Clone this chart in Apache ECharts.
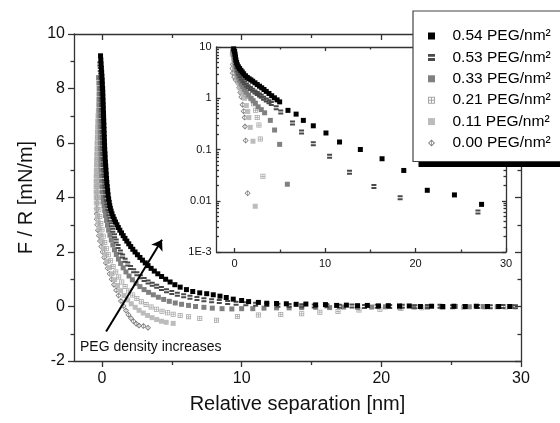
<!DOCTYPE html>
<html>
<head>
<meta charset="utf-8">
<script src="https://cdn.jsdelivr.net/npm/echarts@6/dist/echarts.min.js"></script>
<style>html,body{margin:0;padding:0;background:#fff}#c{width:560px;height:423px}</style>
</head>
<body>
<div id="c"></div>
<script>
// ---------- data ----------
const seriesNames = ['0.54 PEG/nm²','0.53 PEG/nm²','0.33 PEG/nm²','0.21 PEG/nm²','0.11 PEG/nm²','0.00 PEG/nm²'];
const xMajorTicks = [0,10,20,30];
const xMinorTicks = [5,15,25];
const insetYMajor = [0.001,0.01,0.1,1,10];
const insetYMinor = [0.002,0.003,0.004,0.005,0.006,0.007,0.008,0.009,0.02,0.03,0.04,0.05,0.06,0.07,0.08,0.09,0.2,0.3,0.4,0.5,0.6,0.7,0.8,0.9,2,3,4,5,6,7,8,9];
const insetYLabels = ['1E-3','0.01','0.1','1','10'];

const main054 = [[-0.10,9.20],[-0.08,9.05],[-0.06,8.90],[-0.04,8.75],[-0.02,8.60],[0.00,8.45],[0.02,8.30],[0.03,8.15],[0.05,8.00],[0.06,7.85],[0.07,7.70],[0.08,7.55],[0.09,7.40],[0.10,7.25],[0.11,7.10],[0.12,6.95],[0.13,6.80],[0.14,6.65],[0.15,6.50],[0.16,6.35],[0.17,6.20],[0.18,6.05],[0.19,5.90],[0.20,5.75],[0.22,5.60],[0.23,5.45],[0.25,5.30],[0.27,5.15],[0.29,5.00],[0.31,4.85],[0.33,4.70],[0.35,4.55],[0.38,4.40],[0.41,4.25],[0.44,4.10],[0.48,3.95],[0.52,3.82],[0.56,3.70],[0.60,3.60],[0.66,3.50],[0.72,3.40],[0.80,3.30],[0.88,3.20],[0.97,3.10],[1.07,3.00],[1.17,2.90],[1.28,2.80],[1.40,2.70],[1.52,2.60],[1.65,2.50],[1.78,2.40],[1.92,2.30],[2.06,2.20],[2.21,2.10],[2.37,2.00],[2.54,1.90],[2.72,1.80],[2.90,1.70],[3.10,1.60],[3.30,1.50],[3.52,1.40],[3.75,1.30],[4.00,1.20],[4.27,1.10],[4.56,1.00],[4.88,0.90],[5.22,0.80],[5.60,0.71],[6.05,0.62],[6.50,0.55],[7.00,0.50],[7.50,0.47],[7.97,0.43],[8.45,0.38],[8.90,0.33],[9.40,0.27],[10.0,0.22],[10.5,0.18],[11.2,0.15],[11.8,0.12],[12.5,0.11],[13.2,0.10],[13.9,0.08],[14.6,0.09],[15.3,0.06],[16.0,0.07],[16.8,0.04],[17.5,0.05],[18.3,0.03],[19.0,0.04],[19.8,0.02],[20.5,0.03],[21.3,0.02],[22.0,0.02],[22.8,0.00],[23.6,0.01],[24.4,0.00],[25.2,0.01],[26.0,0.00],[26.8,0.01],[27.6,0.00],[28.4,0.00],[29.2,0.00]];
const main053 = [[-0.15,8.90],[-0.12,8.70],[-0.10,8.50],[-0.08,8.30],[-0.06,8.10],[-0.05,7.90],[-0.04,7.70],[-0.03,7.50],[-0.02,7.30],[-0.01,7.10],[0.00,6.90],[0.01,6.70],[0.02,6.50],[0.03,6.30],[0.04,6.10],[0.05,5.90],[0.06,5.70],[0.08,5.50],[0.10,5.30],[0.12,5.10],[0.14,4.90],[0.17,4.70],[0.20,4.50],[0.23,4.30],[0.27,4.10],[0.31,3.95],[0.35,3.80],[0.42,3.60],[0.50,3.40],[0.58,3.20],[0.68,3.00],[0.78,2.80],[0.90,2.60],[1.02,2.40],[1.16,2.20],[1.32,2.00],[1.48,1.85],[1.66,1.70],[1.85,1.56],[2.05,1.43],[2.27,1.31],[2.50,1.20],[2.75,1.09],[3.02,0.99],[3.30,0.90],[3.60,0.82],[3.92,0.74],[4.26,0.66],[4.62,0.58],[5.00,0.51],[5.40,0.45],[5.85,0.39],[6.30,0.34],[6.80,0.29],[7.30,0.25],[7.85,0.21],[8.40,0.18],[9.00,0.15],[9.60,0.12],[10.3,0.10],[11.0,0.08],[11.8,0.07],[12.6,0.05],[13.4,0.04],[14.3,0.03],[15.2,0.02],[16.1,0.03],[17.0,0.01],[17.9,0.02],[18.8,0.00],[19.7,0.01],[20.6,0.00],[21.5,0.01],[22.4,-0.01],[23.3,0.00],[24.2,0.01],[25.1,-0.01],[26.0,0.00],[26.9,0.00],[27.8,-0.01],[28.7,0.00],[29.6,-0.01]];
const main033 = [[-0.24,8.40],[-0.22,8.20],[-0.20,8.00],[-0.19,7.80],[-0.18,7.60],[-0.17,7.40],[-0.16,7.20],[-0.15,7.00],[-0.14,6.80],[-0.13,6.60],[-0.12,6.40],[-0.11,6.20],[-0.10,6.00],[-0.09,5.80],[-0.08,5.60],[-0.07,5.40],[-0.06,5.20],[-0.05,5.00],[-0.03,4.80],[-0.01,4.60],[0.01,4.40],[0.04,4.20],[0.07,4.00],[0.11,3.85],[0.15,3.70],[0.20,3.52],[0.26,3.34],[0.33,3.16],[0.40,2.98],[0.48,2.80],[0.57,2.62],[0.67,2.44],[0.78,2.26],[0.90,2.08],[1.03,1.91],[1.18,1.74],[1.34,1.58],[1.52,1.42],[1.72,1.27],[1.94,1.12],[2.18,0.98],[2.44,0.85],[2.72,0.73],[3.02,0.62],[3.34,0.52],[3.68,0.43],[4.04,0.34],[4.42,0.26],[4.82,0.19],[5.25,0.13],[5.70,0.08],[6.20,0.04],[6.70,0.00],[7.30,-0.03],[7.90,-0.06],[8.60,-0.08],[9.30,-0.09],[10.0,-0.08],[10.8,-0.08],[11.6,-0.06],[12.5,-0.05],[13.4,-0.05],[14.3,-0.04],[15.3,-0.03],[16.3,-0.04],[17.3,-0.02],[18.3,-0.03],[19.3,-0.02],[20.3,-0.01],[21.3,-0.02],[22.3,-0.01],[23.3,-0.02],[24.3,-0.01],[25.3,0.00],[26.3,-0.01],[27.3,0.00],[28.3,-0.01],[29.3,0.00]];
const main021 = [[-0.20,7.80],[-0.22,7.60],[-0.24,7.40],[-0.25,7.20],[-0.26,7.00],[-0.27,6.80],[-0.28,6.60],[-0.29,6.40],[-0.30,6.20],[-0.31,6.00],[-0.32,5.80],[-0.33,5.60],[-0.34,5.40],[-0.35,5.20],[-0.35,5.00],[-0.36,4.80],[-0.36,4.60],[-0.35,4.40],[-0.34,4.20],[-0.31,4.00],[-0.27,3.80],[-0.22,3.55],[-0.15,3.30],[-0.08,3.05],[0.00,2.82],[0.09,2.58],[0.20,2.35],[0.32,2.12],[0.46,1.90],[0.62,1.68],[0.80,1.47],[0.99,1.27],[1.20,1.08],[1.42,0.90],[1.66,0.73],[1.92,0.57],[2.20,0.42],[2.50,0.29],[2.82,0.17],[3.16,0.07],[3.52,-0.02],[3.90,-0.10],[4.30,-0.17],[4.70,-0.23],[5.10,-0.28],[5.60,-0.33],[6.20,-0.38],[7.00,-0.44],[8.20,-0.50],[9.70,-0.37],[11.2,-0.31],[12.8,-0.29],[14.3,-0.27],[15.6,-0.21],[16.9,-0.18],[18.4,-0.13],[19.9,-0.10],[21.4,-0.07],[22.9,-0.05],[24.4,-0.04],[25.9,-0.03],[27.4,-0.02],[28.9,-0.02]];
const main011 = [[-0.25,7.20],[-0.27,7.00],[-0.29,6.80],[-0.30,6.60],[-0.32,6.40],[-0.33,6.20],[-0.35,6.00],[-0.36,5.80],[-0.37,5.60],[-0.38,5.40],[-0.39,5.20],[-0.40,5.00],[-0.41,4.80],[-0.42,4.60],[-0.42,4.40],[-0.42,4.20],[-0.41,4.00],[-0.40,3.80],[-0.37,3.58],[-0.33,3.34],[-0.27,3.10],[-0.20,2.86],[-0.11,2.62],[-0.01,2.38],[0.10,2.14],[0.23,1.90],[0.38,1.66],[0.54,1.43],[0.72,1.20],[0.91,0.98],[1.12,0.77],[1.34,0.58],[1.58,0.40],[1.84,0.24],[2.10,0.10],[2.38,-0.03],[2.66,-0.14],[2.96,-0.24],[3.27,-0.33],[3.59,-0.41],[3.92,-0.48],[4.26,-0.54],[4.60,-0.58],[5.10,-0.62]];
const main000 = [[0.02,6.80],[0.00,6.60],[-0.03,6.40],[-0.06,6.20],[-0.09,6.00],[-0.12,5.80],[-0.15,5.60],[-0.18,5.40],[-0.21,5.20],[-0.24,5.00],[-0.27,4.80],[-0.30,4.60],[-0.32,4.40],[-0.34,4.20],[-0.36,4.00],[-0.37,3.80],[-0.38,3.60],[-0.38,3.40],[-0.37,3.20],[-0.34,3.00],[-0.29,2.80],[-0.22,2.60],[-0.14,2.40],[-0.05,2.20],[0.05,2.00],[0.16,1.80],[0.28,1.60],[0.41,1.40],[0.55,1.20],[0.70,1.00],[0.86,0.80],[1.02,0.60],[1.19,0.40],[1.36,0.20],[1.54,0.02],[1.72,-0.15],[1.90,-0.30],[2.08,-0.43],[2.26,-0.54],[2.45,-0.63],[2.65,-0.70],[2.97,-0.72],[3.30,-0.78]];

const inset054 = [[-0.1,9.2],[0,8.2],[0.05,7.2],[0.1,6.3],[0.15,5.6],[0.22,5.0],[0.3,4.5],[0.42,4.1],[0.55,3.8],[0.7,3.5],[0.85,3.25],[1.0,3.0],[1.2,2.75],[1.4,2.55],[1.6,2.4],[1.8,2.28],[2.0,2.15],[2.25,2.0],[2.5,1.85],[2.75,1.72],[3.0,1.6],[3.25,1.48],[3.5,1.36],[3.8,1.24],[4.1,1.12],[4.4,1.02],[4.7,0.93],[4.98,0.85],[5.9,0.58],[6.8,0.49],[7.6,0.37],[8.7,0.29],[10.1,0.21],[11.6,0.14],[13.9,0.10],[16.3,0.066],[18.7,0.039],[21.3,0.016],[24.3,0.013],[27.3,0.0085]];
const inset053 = [[-0.1,8.8],[0,7.6],[0.05,6.6],[0.1,5.6],[0.16,4.8],[0.24,4.1],[0.34,3.55],[0.46,3.1],[0.6,2.75],[0.75,2.45],[0.92,2.2],[1.1,2.0],[1.3,1.82],[1.5,1.68],[1.75,1.55],[2.0,1.43],[2.25,1.33],[2.5,1.24],[2.75,1.16],[2.95,1.1],[3.2,1.0],[3.5,0.92],[3.8,0.85],[4.06,0.79],[4.6,0.65],[5.1,0.54],[6.4,0.33],[7.4,0.22],[8.7,0.13],[10.5,0.074],[12.7,0.036],[15.4,0.019],[18.3,0.0115],[26.9,0.006]];
const inset033 = [[-0.2,8.4],[-0.1,7.0],[0,5.8],[0.06,4.9],[0.12,4.1],[0.2,3.5],[0.3,3.0],[0.42,2.6],[0.56,2.25],[0.72,1.95],[0.9,1.7],[1.1,1.5],[1.3,1.32],[1.55,1.15],[1.8,1.0],[2.05,0.9],[2.3,0.8],[2.6,0.68],[2.95,0.6],[3.32,0.52],[3.95,0.37],[4.42,0.24],[4.98,0.126],[5.83,0.021]];
const inset021 = [[-0.2,7.8],[-0.1,6.4],[0,5.3],[0.06,4.4],[0.13,3.7],[0.22,3.1],[0.33,2.6],[0.46,2.2],[0.62,1.85],[0.8,1.58],[1.0,1.36],[1.2,1.2],[1.45,1.08],[1.84,0.98],[2.1,0.78],[2.32,0.58],[2.5,0.42],[2.69,0.3],[2.84,0.16],[3.13,0.03]];
const inset011 = [[-0.25,7.2],[-0.12,5.8],[-0.02,4.7],[0.06,3.8],[0.15,3.1],[0.26,2.5],[0.4,2.0],[0.56,1.65],[0.74,1.38],[0.92,1.18],[1.1,1.0],[1.3,0.72],[1.45,0.55],[1.58,0.42],[1.73,0.27],[2.03,0.145],[2.28,0.0078]];
const inset000 = [[0,6.8],[-0.1,5.6],[-0.2,4.6],[-0.25,3.8],[-0.2,3.1],[-0.05,2.6],[0.1,2.3],[0.37,2.0],[0.5,1.6],[0.62,1.3],[0.74,1.06],[0.88,0.75],[1.0,0.56],[1.1,0.42],[1.15,0.28],[1.22,0.15],[1.44,0.014]];

// ---------- styles ----------
const FONT = 'Liberation Sans, Arial, sans-serif';
const AX = {color:'#333', width:1.3};
const SYM = {
  square: 'path://M0,0H10V10H0Z',
  striped: 'path://M0,0H10V4H0Z M0,6H10V10H0Z',
  hatched: 'path://M0,0H10V10H0Z M1.5,1.5V4.3H4.3V1.5Z M5.7,1.5V4.3H8.5V1.5Z M1.5,5.7V8.5H4.3V5.7Z M5.7,5.7V8.5H8.5V5.7Z',
  diamond: 'path://M5,0L10,5L5,10L0,5Z M5,1.8L1.8,5L5,8.2L8.2,5Z M4.5,0.8H5.5V9.2H4.5Z'
};
const looks = [
  {sym:SYM.square, color:'#000000', size:5},
  {sym:SYM.striped, color:'#4a4a4a', size:5},
  {sym:SYM.square, color:'#808080', size:5},
  {sym:SYM.hatched, color:'#a6a6a6', size:5},
  {sym:SYM.square, color:'#bcbcbc', size:5},
  {sym:SYM.diamond, color:'#7a7a7a', size:6}
];
const mainData = [main054, main053, main033, main021, main011, main000];
const insetData = [inset054, inset053, inset033, inset021, inset011, inset000];

function xAx(grid, pos, vals, len, opts) {
  return Object.assign({
    gridIndex: grid, type:'value', min:-2, max:30, position:pos,
    axisLine:{show:true, onZero:false, lineStyle:AX},
    axisTick:{show:true, customValues:vals, length:len, inside: pos==='top' || grid===1, lineStyle:AX},
    axisLabel:{show:false},
    splitLine:{show:false}
  }, opts || {});
}

const xAxes = [
  xAx(0,'bottom',xMajorTicks,6,{axisLabel:{show:true, customValues:xMajorTicks, fontSize:16, color:'#111', fontFamily:FONT, margin:10},
    name:'Relative separation [nm]', nameLocation:'middle', nameGap:33, nameTextStyle:{fontSize:20, color:'#111', fontFamily:FONT}}),
  xAx(0,'bottom',xMinorTicks,4,{axisLine:{show:false, onZero:false}}),
  xAx(0,'top',xMajorTicks,6),
  xAx(0,'top',xMinorTicks,4,{axisLine:{show:false, onZero:false}}),
  xAx(1,'bottom',xMajorTicks,4,{axisLabel:{show:true, customValues:xMajorTicks, fontSize:11, color:'#111', fontFamily:FONT, margin:6}}),
  xAx(1,'bottom',xMinorTicks,2.5,{axisLine:{show:false, onZero:false}}),
  xAx(1,'top',xMajorTicks,4),
  xAx(1,'top',xMinorTicks,2.5,{axisLine:{show:false, onZero:false}})
];

const yAxes = [
  {gridIndex:0, type:'value', min:-2, max:10, interval:2, position:'left',
    axisLine:{show:true, onZero:false, lineStyle:AX},
    axisTick:{show:true, length:6, lineStyle:AX},
    minorTick:{show:true, splitNumber:2, length:3.5, lineStyle:AX},
    axisLabel:{fontSize:16, color:'#111', fontFamily:FONT, margin:9},
    splitLine:{show:false},
    name:'F / R [mN/m]', nameLocation:'middle', nameGap:33, nameTextStyle:{fontSize:20, color:'#111', fontFamily:FONT}},
  {gridIndex:0, type:'value', min:-2, max:10, interval:2, position:'right',
    axisLine:{show:true, onZero:false, lineStyle:AX},
    axisTick:{show:true, inside:true, length:6, lineStyle:AX},
    minorTick:{show:true, splitNumber:2, length:3.5, lineStyle:AX},
    axisLabel:{show:false}, splitLine:{show:false}},
  {gridIndex:1, type:'log', logBase:10, min:0.001, max:10, position:'left',
    axisLine:{show:true, onZero:false, lineStyle:AX},
    axisTick:{show:true, inside:true, length:4, customValues:insetYMajor, lineStyle:AX},
    axisLabel:{show:true, customValues:insetYMajor, fontSize:11, color:'#111', fontFamily:FONT, margin:5,
      formatter:function(v){ const i = insetYMajor.findIndex(t => Math.abs(Math.log10(t) - Math.log10(v)) < 1e-6); return i >= 0 ? insetYLabels[i] : ''; }},
    splitLine:{show:false}},
  {gridIndex:1, type:'log', logBase:10, min:0.001, max:10, position:'left',
    axisLine:{show:false, onZero:false},
    axisTick:{show:true, inside:true, length:2.5, customValues:insetYMinor, lineStyle:AX},
    axisLabel:{show:false}, splitLine:{show:false}},
  {gridIndex:1, type:'log', logBase:10, min:0.001, max:10, position:'right',
    axisLine:{show:true, onZero:false, lineStyle:AX},
    axisTick:{show:true, inside:true, length:4, customValues:insetYMajor, lineStyle:AX},
    axisLabel:{show:false}, splitLine:{show:false}},
  {gridIndex:1, type:'log', logBase:10, min:0.001, max:10, position:'right',
    axisLine:{show:false, onZero:false},
    axisTick:{show:true, inside:true, length:2.5, customValues:insetYMinor, lineStyle:AX},
    axisLabel:{show:false}, splitLine:{show:false}}
];

const series = [];
// draw lowest density first so the black curve sits on top
for (let i = seriesNames.length - 1; i >= 0; i--) {
  const lk = looks[i];
  series.push({
    name: seriesNames[i], type:'scatter', xAxisIndex:0, yAxisIndex:0,
    data: mainData[i], symbol: lk.sym, symbolSize: lk.size,
    itemStyle:{color: lk.color, opacity:1}, silent:true, z: 2
  });
}
for (let i = seriesNames.length - 1; i >= 0; i--) {
  const lk = looks[i];
  series.push({
    name: seriesNames[i], type:'scatter', xAxisIndex:4, yAxisIndex:2,
    data: insetData[i], symbol: lk.sym, symbolSize: lk.size,
    itemStyle:{color: lk.color, opacity:1}, silent:true, z: 2
  });
}
// arrow annotation, attached to the main black series
series[5].markLine = {
  silent:true, symbol:['none','arrow'], symbolSize:10, animation:false,
  label:{show:false}, lineStyle:{color:'#000', width:2, type:'solid'},
  data:[[{coord:[0.3,-0.92]},{coord:[4.3,2.45]}]]
};

const option = {
  backgroundColor:'#fff',
  animation:false,
  grid:[
    {left:74, top:34, right:39, bottom:62, containLabel:false},
    {left:216.5, top:47, right:54, bottom:171, containLabel:false}
  ],
  xAxis: xAxes,
  yAxis: yAxes,
  legend:{
    orient:'vertical', left:423, top:23, itemWidth:32, itemHeight:7, itemGap:5.4,
    selectedMode:false, z:60,
    textStyle:{fontSize:15.5, color:'#000', fontFamily:FONT},
    data: seriesNames
  },
  graphic:[
    {type:'rect', z:50, silent:true, shape:{x:418.5, y:16.5, width:200, height:150.5}, style:{fill:'#000'}},
    {type:'rect', z:51, silent:true, shape:{x:413, y:11, width:200, height:150.5}, style:{fill:'#fff', stroke:'#444', lineWidth:1.2}},
    {type:'text', z:52, silent:true, left:80, top:340, style:{text:'PEG density increases', font:'14px ' + FONT, fill:'#111'}}
  ],
  series: series
};

const chart = echarts.init(document.getElementById('c'), null, {renderer:'canvas'});
chart.setOption(option);
</script>
</body>
</html>
